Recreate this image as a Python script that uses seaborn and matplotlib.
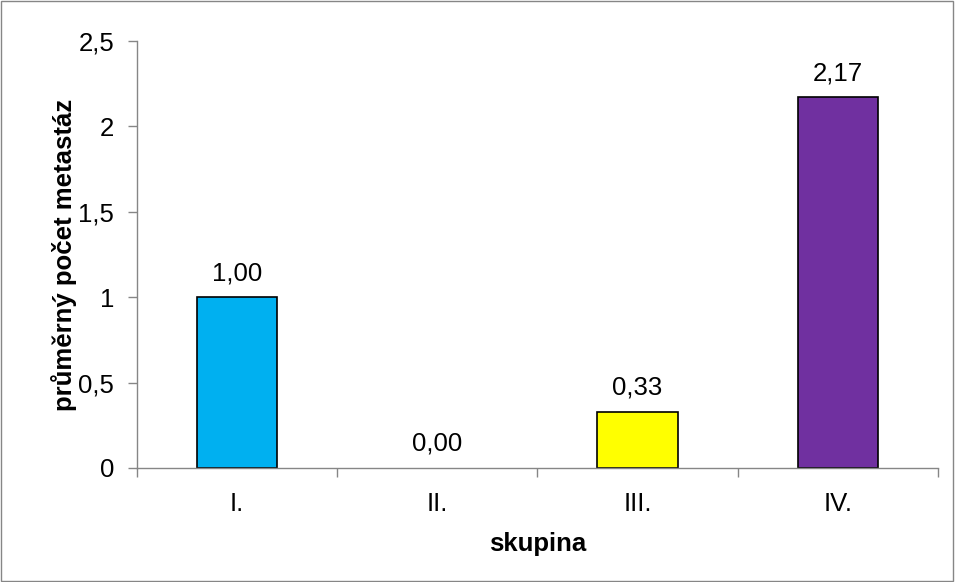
"""
Průměrný počet metastáz podle skupiny
"""
import matplotlib
matplotlib.use("Agg")
import matplotlib.pyplot as plt
import matplotlib.patches as mpatches
import pandas as pd
import seaborn as sns

skupiny = ["I.", "II.", "III.", "IV."]
prumer = [1.00, 0.00, 0.33, 2.17]
barvy = ["#00B0F0", "#FFFFFF", "#FFFF00", "#7030A0"]
y_ticks = [0, 0.5, 1, 1.5, 2, 2.5]

sns.set_theme(style="white")
plt.rcParams["font.family"] = ["Liberation Sans", "DejaVu Sans"]
plt.rcParams["text.color"] = "black"
plt.rcParams["xtick.color"] = "black"
plt.rcParams["ytick.color"] = "black"
plt.rcParams["axes.labelcolor"] = "black"

FS = 18.5
df = pd.DataFrame({"skupina": skupiny, "prumer": prumer})

fig = plt.figure(figsize=(9.55, 5.82), dpi=100)
ax = fig.add_axes([0.1435, 0.196, 0.8385, 0.7336])

sns.barplot(data=df, x="skupina", y="prumer", hue="skupina", palette=barvy,
            saturation=1, width=0.4, edgecolor="black", linewidth=1.2,
            legend=False, ax=ax)
# nulový sloupec se v originále nekreslí
for p in ax.patches:
    if p.get_height() == 0:
        p.set_linewidth(0)

for i, v in enumerate(prumer):
    ax.text(i, v + 0.07, f"{v:.2f}".replace(".", ","), ha="center", va="bottom", fontsize=FS)

ax.set_xlim(-0.5, 3.5)
ax.set_ylim(0, 2.5)
ax.set_yticks(y_ticks)
ax.set_yticklabels([f"{t:g}".replace(".", ",") for t in y_ticks], fontsize=FS)
ax.set_xticks(range(len(skupiny)))
ax.set_xticklabels(skupiny, fontsize=FS)
ax.set_xticks([x - 0.5 for x in range(len(skupiny) + 1)], minor=True)
ax.tick_params(axis="x", which="major", length=0, pad=17)
ax.tick_params(axis="x", which="minor", length=6.5, color="#868686", width=1, direction="out", bottom=True)
ax.tick_params(axis="y", length=6.5, color="#868686", width=1, direction="out", left=True, pad=10)

for s in ["top", "right"]:
    ax.spines[s].set_visible(False)
for s in ["left", "bottom"]:
    ax.spines[s].set_color("#868686")
    ax.spines[s].set_linewidth(1)

ax.set_xlabel("skupina", fontsize=FS, fontweight="bold", labelpad=12)
ax.set_ylabel("průměrný počet metastáz", fontsize=FS, fontweight="bold", labelpad=1)

fig.patches.append(mpatches.Rectangle((0.001, 0.001), 0.997, 0.997, transform=fig.transFigure,
                                      fill=False, edgecolor="#868686", linewidth=1))

fig.savefig("out.png", dpi=100)
